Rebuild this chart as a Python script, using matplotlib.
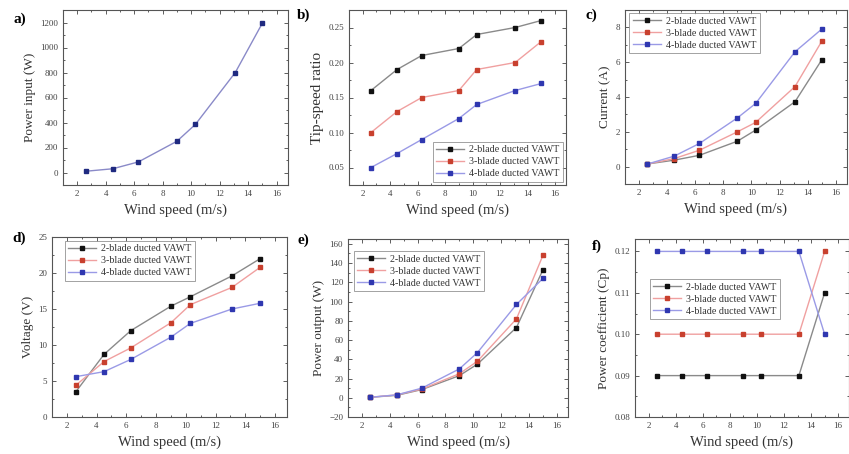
import numpy as np
import matplotlib
matplotlib.use("Agg")
from matplotlib import pyplot as plt
from matplotlib.ticker import AutoMinorLocator, FormatStrFormatter

wind = [2.6, 4.5, 6.3, 9.0, 10.3, 13.1, 15.0]

power_input = [10, 30, 85, 250, 385, 800, 1195]

tsr_2 = [0.16, 0.19, 0.21, 0.22, 0.24, 0.25, 0.26]
tsr_3 = [0.10, 0.13, 0.15, 0.16, 0.19, 0.20, 0.23]
tsr_4 = [0.05, 0.07, 0.09, 0.12, 0.14, 0.16, 0.17]

cur_2 = [0.15, 0.37, 0.65, 1.46, 2.1, 3.73, 6.13]
cur_3 = [0.15, 0.46, 0.94, 2.0, 2.54, 4.6, 7.2]
cur_4 = [0.15, 0.6, 1.33, 2.8, 3.63, 6.6, 7.9]

volt_2 = [3.5, 8.7, 12.0, 15.4, 16.7, 19.6, 22.0]
volt_3 = [4.4, 7.7, 9.6, 13.1, 15.6, 18.0, 20.8]
volt_4 = [5.6, 6.3, 8.0, 11.1, 13.0, 15.0, 15.8]

pout_2 = [0.5, 2.5, 8.5, 23, 35, 73, 133]
pout_3 = [0.5, 3, 9, 25, 38, 82, 148]
pout_4 = [0.5, 3, 10, 30, 47, 97, 124]

cp_2 = [0.09, 0.09, 0.09, 0.09, 0.09, 0.09, 0.11]
cp_3 = [0.10, 0.10, 0.10, 0.10, 0.10, 0.10, 0.12]
cp_4 = [0.12, 0.12, 0.12, 0.12, 0.12, 0.12, 0.10]

names = ["2-blade ducted VAWT", "3-blade ducted VAWT", "4-blade ducted VAWT"]
mcols = ["#111111", "#c8402e", "#2f37b0"]
lcols = ["#8a8a8a", "#f0a0a0", "#9a9ae6"]

plt.rcParams["font.family"] = ["Liberation Serif", "DejaVu Serif"]
fig = plt.figure(figsize=(8.49, 4.54), dpi=100)
W, H = 849, 454


def mkax(l, r, t, b):
    return fig.add_axes([l / W, 1 - b / H, (r - l) / W, (b - t) / H])


def style(ax, ylab, letter, lx, ly, yfs=9.5):
    ax.set_xlim(1, 16.8)
    ax.set_xticks([2, 4, 6, 8, 10, 12, 14, 16])
    ax.xaxis.set_minor_locator(AutoMinorLocator(2))
    ax.yaxis.set_minor_locator(AutoMinorLocator(2))
    ax.tick_params(which="both", direction="in", top=True, right=True,
                   labelsize=6.5, colors="#444444", width=0.6)
    ax.tick_params(which="major", length=3)
    ax.tick_params(which="minor", length=1.6)
    for s in ax.spines.values():
        s.set_color("#555555")
        s.set_linewidth(0.8)
    ax.set_xlabel("Wind speed (m/s)", fontsize=10.5, color="#333333", labelpad=4)
    ax.set_ylabel(ylab, fontsize=yfs, color="#333333", labelpad=3)
    fig.text(lx / W, 1 - ly / H, letter, fontsize=11, fontweight="bold",
             ha="left", va="center")


def three(ax, ys):
    for y, mc, lc, nm in zip(ys, mcols, lcols, names):
        ax.plot(wind, y, "-", color=lc, lw=1.0, marker="s", ms=3.2,
                mfc=mc, mec=mc, label=nm)


def leg(ax, pad=0.3, **kw):
    lg = ax.legend(fontsize=7.2, frameon=True, fancybox=False,
                   handlelength=2.8, borderpad=0.35, labelspacing=0.3,
                   handletextpad=0.5, borderaxespad=pad, **kw)
    lg.get_frame().set_edgecolor("#777777")
    lg.get_frame().set_linewidth(0.6)
    for t in lg.get_texts():
        t.set_color("#333333")


# a) power input
ax = mkax(63, 288, 10, 185)
ax.plot(wind, power_input, "-", color="#8a8ac8", lw=1.0, marker="s", ms=3.2,
        mfc="#1f2a80", mec="#1f2a80")
ax.set_ylim(-100, 1300)
ax.set_yticks(range(0, 1201, 200))
style(ax, "Power input (W)", "a)", 14, 19)

# b) tip-speed ratio
ax = mkax(349, 566, 10, 185)
three(ax, [tsr_2, tsr_3, tsr_4])
ax.set_ylim(0.025, 0.275)
ax.set_yticks([0.05, 0.10, 0.15, 0.20, 0.25])
ax.yaxis.set_major_formatter(FormatStrFormatter("%.2f"))
style(ax, "Tip-speed ratio", "b)", 297, 15, yfs=11)
leg(ax, loc="lower right")

# c) current
ax = mkax(625, 847, 10, 184)
three(ax, [cur_2, cur_3, cur_4])
ax.set_ylim(-1, 9)
ax.set_yticks([0, 2, 4, 6, 8])
style(ax, "Current (A)", "c)", 585, 15)
leg(ax, pad=0, loc="upper left", bbox_to_anchor=(0.02, 0.98))

# d) voltage
ax = mkax(52, 287, 237, 417)
three(ax, [volt_2, volt_3, volt_4])
ax.set_ylim(0, 25)
ax.set_yticks([0, 5, 10, 15, 20, 25])
style(ax, "Voltage (V)", "d)", 12, 238)
leg(ax, pad=0, loc="upper left", bbox_to_anchor=(0.055, 0.98))

# e) power output
ax = mkax(348, 568, 239, 417)
three(ax, [pout_2, pout_3, pout_4])
ax.set_ylim(-20, 165)
ax.set_yticks(range(-20, 161, 20))
style(ax, "Power output (W)", "e)", 297, 240)
leg(ax, pad=0, loc="upper left", bbox_to_anchor=(0.025, 0.93))

# f) power coefficient
ax = mkax(635, 849, 239, 417)
three(ax, [cp_2, cp_3, cp_4])
ax.set_ylim(0.08, 0.123)
ax.set_yticks([0.08, 0.09, 0.10, 0.11, 0.12])
ax.yaxis.set_major_formatter(FormatStrFormatter("%.2f"))
style(ax, "Power coefficient (Cp)", "f)", 592, 246)
leg(ax, pad=0, loc="upper left", bbox_to_anchor=(0.07, 0.775))

fig.savefig("out.png", dpi=100)
